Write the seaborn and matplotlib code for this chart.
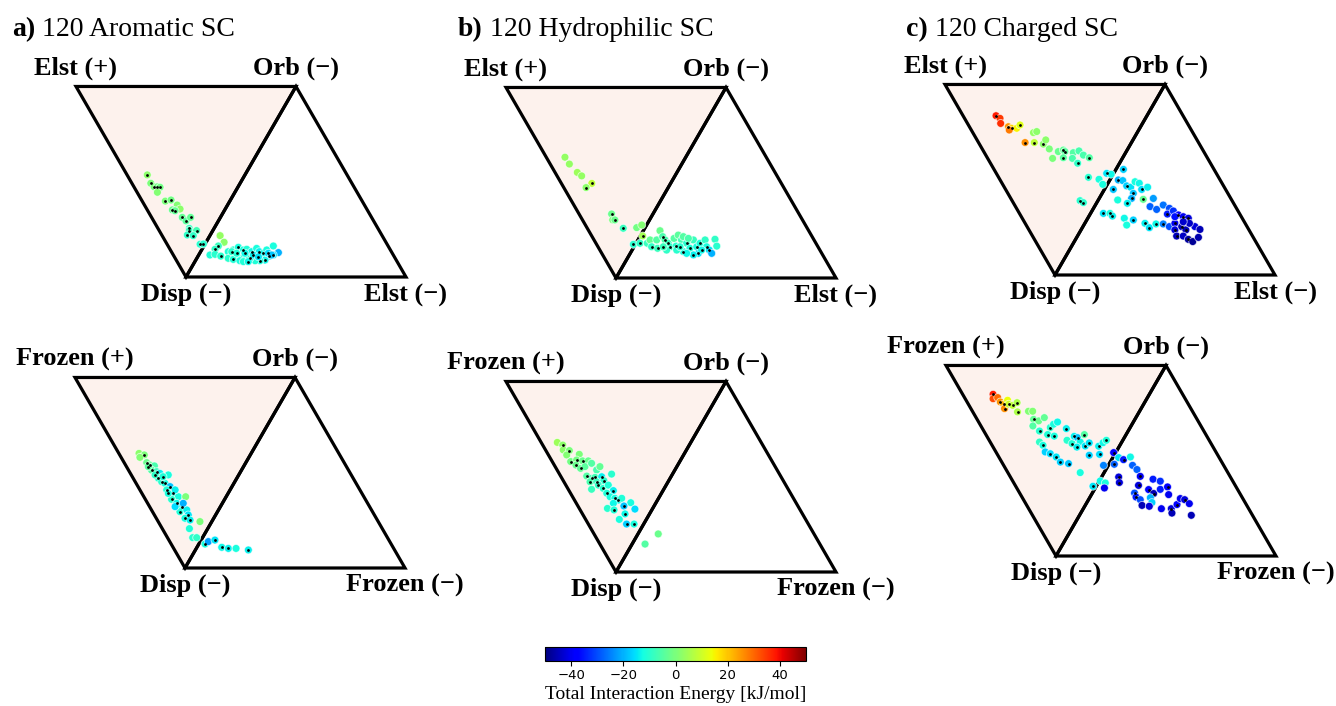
import numpy as np
import pandas as pd
import matplotlib
matplotlib.use("Agg")
import matplotlib.pyplot as plt
import seaborn as sns
from matplotlib.patches import Polygon
from matplotlib.colors import Normalize
from matplotlib.cm import ScalarMappable

# ---------------- data (projected ternary coordinates, side = 1, Disp vertex at origin) -------------
# columns: x, y, total interaction energy [kJ/mol], marked (black centre dot)
aro_elst = [
    (-0.176, 0.464, 2, 1), (-0.160, 0.426, 0, 1), (-0.145, 0.410, 0, 1), (-0.130, 0.410, -1, 1),
    (-0.118, 0.408, -1, 1), (-0.130, 0.385, 1, 0), (-0.094, 0.345, 0, 1), (-0.068, 0.350, -1, 1),
    (-0.040, 0.327, 1, 0), (-0.027, 0.309, 2, 0), (-0.062, 0.305, -2, 1), (-0.050, 0.301, -3, 1),
    (-0.017, 0.271, -3, 1), (0.000, 0.255, -4, 1), (0.021, 0.271, -3, 1), (0.015, 0.221, -8, 1),
    (0.015, 0.211, -8, 1), (0.048, 0.211, -7, 1), (0.006, 0.191, -9, 1), (0.033, 0.188, -9, 1),
    (0.064, 0.149, -10, 1), (0.079, 0.150, -10, 1), (0.155, 0.188, 3, 0), (0.173, 0.158, 2, 0),
    (0.147, 0.141, -8, 1), (0.132, 0.126, -9, 1), (0.109, 0.100, -11, 0), (0.132, 0.103, -10, 0),
    (0.158, 0.095, -10, 1), (0.192, 0.115, -11, 0), (0.215, 0.123, -10, 0), (0.238, 0.135, -12, 1),
    (0.261, 0.123, -12, 1), (0.276, 0.126, -11, 0), (0.298, 0.115, -13, 1), (0.321, 0.130, -12, 0),
    (0.333, 0.115, -14, 1), (0.352, 0.108, -13, 1), (0.367, 0.123, -12, 0), (0.397, 0.141, -12, 0),
    (0.420, 0.111, -20, 0), (0.397, 0.100, -15, 1), (0.379, 0.095, -14, 1), (0.359, 0.077, -13, 1),
    (0.336, 0.074, -12, 1), (0.314, 0.074, -11, 0), (0.291, 0.085, -12, 1), (0.276, 0.092, -10, 0),
    (0.253, 0.085, -11, 0), (0.230, 0.092, -10, 0), (0.208, 0.100, -9, 0), (0.192, 0.085, -10, 0),
    (0.215, 0.080, -11, 1), (0.245, 0.074, -12, 0), (0.261, 0.070, -11, 0), (0.283, 0.070, -13, 1),
    (0.306, 0.100, -14, 1), (0.329, 0.092, -15, 1), (0.374, 0.108, -16, 1), (0.389, 0.100, -18, 0),
    (0.208, 0.115, -10, 1), (0.230, 0.108, -11, 1), (0.268, 0.108, -13, 1),
]
aro_frozen = [
    (-0.209, 0.521, 2, 0), (-0.185, 0.514, 0, 1), (-0.205, 0.503, 1, 0), (-0.174, 0.479, -2, 1),
    (-0.159, 0.468, -3, 1), (-0.139, 0.464, -6, 0), (-0.152, 0.445, -5, 1), (-0.129, 0.438, -8, 1),
    (-0.114, 0.430, -14, 0), (-0.076, 0.423, -12, 0), (-0.121, 0.408, -10, 1), (-0.106, 0.392, -10, 1),
    (-0.091, 0.385, -12, 1), (-0.068, 0.370, -18, 1), (-0.083, 0.355, -11, 1), (-0.053, 0.339, -13, 1),
    (-0.030, 0.324, -12, 0), (0.003, 0.324, 0, 0), (-0.061, 0.312, -10, 1), (-0.038, 0.294, -13, 1),
    (-0.015, 0.279, -12, 1), (-0.023, 0.256, -11, 1), (0.008, 0.264, -14, 0), (0.015, 0.241, -15, 1),
    (0.000, 0.226, -12, 1), (0.023, 0.218, -14, 1), (0.068, 0.211, 0, 0), (0.020, 0.179, -11, 0),
    (0.035, 0.138, -10, 0), (0.053, 0.138, -9, 0), (0.091, 0.109, -12, 1), (0.106, 0.120, -22, 0),
    (0.136, 0.127, -15, 1), (0.167, 0.094, -13, 1), (0.197, 0.089, -14, 1), (0.232, 0.089, -12, 0),
    (0.288, 0.082, -14, 1), (-0.167, 0.461, -4, 1), (-0.136, 0.423, -9, 1), (-0.100, 0.415, -11, 1),
    (-0.045, 0.355, -14, 0), (-0.076, 0.339, -12, 1), (-0.045, 0.279, -16, 0), (-0.008, 0.294, -20, 0),
]
hyd_elst = [
    (-0.232, 0.549, 3, 0), (-0.212, 0.518, 3, 0), (-0.176, 0.480, 4, 0), (-0.156, 0.464, 3, 0),
    (-0.110, 0.430, 8, 1), (-0.136, 0.411, 2, 1), (-0.020, 0.291, -2, 1), (-0.015, 0.264, 0, 0),
    (-0.005, 0.264, -2, 1), (0.033, 0.226, -8, 1), (0.094, 0.229, -1, 0), (0.117, 0.241, 1, 0),
    (0.121, 0.191, 5, 1), (0.079, 0.153, -10, 1), (0.109, 0.158, -9, 1), (0.142, 0.158, -8, 0),
    (0.155, 0.173, -3, 0), (0.162, 0.142, -9, 1), (0.185, 0.173, -5, 0), (0.200, 0.215, -2, 0),
    (0.212, 0.188, -6, 1), (0.189, 0.135, -8, 1), (0.223, 0.173, -6, 1), (0.238, 0.158, -8, 1),
    (0.264, 0.180, -5, 0), (0.283, 0.195, -4, 0), (0.245, 0.142, -9, 1), (0.273, 0.145, -10, 1),
    (0.298, 0.173, -7, 0), (0.306, 0.188, -5, 0), (0.321, 0.158, -10, 1), (0.336, 0.135, -11, 1),
    (0.306, 0.120, -12, 1), (0.352, 0.173, -8, 0), (0.367, 0.142, -12, 1), (0.382, 0.158, -11, 1),
    (0.405, 0.173, -9, 0), (0.412, 0.142, -12, 1), (0.424, 0.127, -15, 1), (0.450, 0.176, -9, 0),
    (0.458, 0.145, -10, 0), (0.435, 0.112, -20, 0), (0.374, 0.112, -15, 1), (0.352, 0.105, -14, 1),
    (0.321, 0.112, -13, 0), (0.276, 0.127, -10, 0), (0.230, 0.127, -9, 0), (0.215, 0.142, -8, 1),
    (0.389, 0.127, -13, 1), (0.291, 0.142, -10, 1), (0.329, 0.180, -6, 0),
]
hyd_frozen = [
    (-0.267, 0.589, 4, 0), (-0.242, 0.577, 2, 1), (-0.240, 0.555, 2, 0), (-0.212, 0.552, 0, 1),
    (-0.224, 0.532, 1, 0), (-0.206, 0.502, -1, 1), (-0.167, 0.535, 0, 0), (-0.179, 0.509, -1, 1),
    (-0.152, 0.505, -2, 1), (-0.126, 0.505, -2, 0), (-0.182, 0.486, -2, 1), (-0.161, 0.471, -3, 1),
    (-0.141, 0.479, -4, 0), (-0.111, 0.494, -5, 0), (-0.088, 0.464, -6, 0), (-0.073, 0.479, -3, 0),
    (-0.133, 0.436, -5, 1), (-0.111, 0.426, -7, 1), (-0.095, 0.430, -7, 1), (-0.065, 0.433, -14, 1),
    (-0.020, 0.445, -10, 0), (-0.118, 0.410, -6, 1), (-0.088, 0.410, -8, 1), (-0.055, 0.415, -10, 1),
    (-0.111, 0.376, -8, 0), (-0.080, 0.395, -9, 1), (-0.058, 0.380, -10, 1), (-0.035, 0.395, -11, 0),
    (-0.012, 0.370, -14, 1), (-0.042, 0.358, -11, 1), (-0.027, 0.342, -12, 0), (-0.005, 0.335, -12, 1),
    (0.011, 0.327, -13, 1), (-0.012, 0.312, -13, 0), (0.026, 0.335, -11, 0), (0.067, 0.315, -12, 0),
    (0.036, 0.300, -18, 1), (0.086, 0.286, -16, 0), (-0.039, 0.289, -10, 0), (-0.009, 0.282, -11, 1),
    (0.041, 0.264, -13, 1), (0.015, 0.239, -12, 0), (0.048, 0.218, -17, 1), (0.082, 0.218, -12, 1),
    (0.192, 0.173, -2, 0), (0.132, 0.127, -5, 0),
]
chg_elst = [
    (-0.268, 0.724, 38, 1), (-0.250, 0.712, 35, 0), (-0.247, 0.689, 36, 0), (-0.212, 0.674, 25, 1),
    (-0.197, 0.667, 18, 1), (-0.174, 0.667, 15, 0), (-0.159, 0.682, 12, 1), (-0.208, 0.659, 28, 0),
    (-0.098, 0.647, 3, 0), (-0.083, 0.652, 2, 0), (-0.136, 0.602, 26, 1), (-0.094, 0.602, 8, 1),
    (-0.053, 0.595, 2, 1), (-0.042, 0.614, 2, 0), (-0.026, 0.573, 0, 0), (0.015, 0.561, -2, 0),
    (0.038, 0.568, -3, 1), (0.045, 0.561, -4, 1), (0.083, 0.556, -5, 0), (0.109, 0.564, -6, 0),
    (-0.011, 0.530, 0, 0), (0.038, 0.533, -4, 1), (0.079, 0.530, -6, 0), (0.103, 0.508, -9, 1),
    (0.129, 0.545, -6, 0), (0.156, 0.533, -5, 1), (0.152, 0.444, -10, 1), (0.200, 0.435, -12, 0),
    (0.217, 0.412, -12, 0), (0.235, 0.462, -15, 1), (0.255, 0.458, -13, 0), (0.311, 0.480, -17, 1),
    (0.288, 0.432, -20, 1), (0.308, 0.429, -18, 0), (0.265, 0.389, -18, 1), (0.326, 0.405, -17, 1),
    (0.344, 0.399, -15, 0), (0.364, 0.424, -12, 0), (0.383, 0.417, -13, 0), (0.394, 0.389, -16, 1),
    (0.421, 0.399, -14, 0), (0.356, 0.371, -18, 1), (0.348, 0.348, -20, 1), (0.401, 0.344, -3, 1),
    (0.447, 0.348, -22, 0), (0.285, 0.341, -12, 0), (0.329, 0.326, -14, 1), (0.114, 0.338, -10, 1),
    (0.129, 0.329, -10, 1), (0.220, 0.280, -15, 1), (0.250, 0.280, -12, 1), (0.261, 0.268, -14, 1),
    (0.315, 0.258, -13, 0), (0.326, 0.227, -12, 0), (0.356, 0.250, -17, 1), (0.409, 0.235, -14, 1),
    (0.429, 0.215, -15, 1), (0.459, 0.232, -13, 1), (0.432, 0.311, -28, 0), (0.462, 0.298, -28, 0),
    (0.492, 0.318, -26, 0), (0.520, 0.303, -30, 0), (0.511, 0.277, -35, 1), (0.538, 0.291, -33, 0),
    (0.561, 0.273, -38, 1), (0.583, 0.265, -40, 1), (0.606, 0.258, -42, 1), (0.636, 0.220, -42, 0),
    (0.659, 0.207, -45, 0), (0.492, 0.232, -25, 1), (0.520, 0.220, -30, 0), (0.545, 0.235, -40, 1),
    (0.545, 0.205, -42, 1), (0.576, 0.220, -45, 1), (0.595, 0.205, -45, 1), (0.611, 0.235, -44, 0),
    (0.553, 0.177, -45, 1), (0.583, 0.177, -44, 0), (0.606, 0.162, -47, 1), (0.626, 0.152, -48, 0),
    (0.652, 0.171, -46, 0), (0.545, 0.265, -36, 0), (0.583, 0.242, -43, 0),
]
chg_frozen = [
    (-0.286, 0.735, 38, 1), (-0.286, 0.715, 33, 0), (-0.265, 0.720, 30, 0), (-0.253, 0.700, 25, 1),
    (-0.238, 0.690, 22, 1), (-0.234, 0.670, 26, 1), (-0.220, 0.708, 14, 0), (-0.215, 0.690, 10, 1),
    (-0.197, 0.685, 8, 1), (-0.177, 0.697, 6, 1), (-0.175, 0.655, 6, 1), (-0.125, 0.658, 1, 0),
    (-0.106, 0.658, 1, 0), (-0.102, 0.621, -3, 1), (-0.079, 0.614, -2, 0), (-0.053, 0.629, -3, 0),
    (-0.105, 0.591, -5, 0), (-0.075, 0.568, -10, 1), (-0.026, 0.584, -10, 1), (-0.011, 0.599, -12, 0),
    (0.007, 0.609, -13, 0), (0.047, 0.579, -14, 1), (-0.038, 0.552, -11, 1), (-0.008, 0.545, -12, 1),
    (-0.075, 0.518, -9, 0), (-0.059, 0.503, -12, 1), (0.050, 0.526, -10, 0), (0.073, 0.511, -11, 1),
    (0.083, 0.544, -14, 1), (0.098, 0.538, -18, 1), (0.129, 0.552, -5, 1), (0.110, 0.518, -13, 0),
    (0.095, 0.495, -14, 1), (0.133, 0.500, -15, 1), (0.151, 0.514, -15, 1), (0.194, 0.499, -14, 1),
    (0.214, 0.515, -13, 0), (0.229, 0.526, -11, 1), (-0.049, 0.473, -17, 0), (-0.026, 0.465, -16, 1),
    (0.001, 0.450, -15, 1), (0.020, 0.427, -17, 1), (0.057, 0.420, -18, 1), (0.151, 0.458, -17, 1),
    (0.198, 0.462, -16, 1), (0.110, 0.379, -12, 0), (0.262, 0.470, -38, 1), (0.285, 0.447, -15, 0),
    (0.307, 0.438, -35, 1), (0.338, 0.450, -13, 0), (0.265, 0.417, -28, 1), (0.216, 0.412, -25, 0),
    (0.348, 0.412, -28, 0), (0.368, 0.393, -28, 0), (0.383, 0.362, -40, 1), (0.285, 0.359, -42, 1),
    (0.288, 0.334, -42, 1), (0.201, 0.341, -13, 0), (0.224, 0.332, -12, 0), (0.168, 0.317, -15, 1),
    (0.220, 0.309, -40, 0), (0.375, 0.321, -42, 1), (0.441, 0.349, -35, 0), (0.474, 0.340, -33, 0),
    (0.421, 0.302, -38, 1), (0.444, 0.284, -45, 1), (0.474, 0.303, -35, 0), (0.507, 0.314, -38, 1),
    (0.512, 0.279, -40, 0), (0.357, 0.286, -30, 1), (0.364, 0.268, -35, 1), (0.383, 0.256, -30, 0),
    (0.429, 0.265, -20, 0), (0.436, 0.243, -17, 0), (0.391, 0.230, -45, 0), (0.424, 0.226, -42, 0),
    (0.479, 0.215, -40, 0), (0.524, 0.215, -42, 1), (0.527, 0.195, -45, 0), (0.550, 0.234, -38, 1),
    (0.565, 0.261, -40, 0), (0.585, 0.256, -42, 1), (0.606, 0.238, -40, 0), (0.615, 0.185, -45, 0),
]

titles = [("a)", "120 Aromatic SC"), ("b)", "120 Hydrophilic SC"), ("c)", "120 Charged SC")]
top_labels = ["Elst (+)", "Orb (\u2212)", "Disp (\u2212)", "Elst (\u2212)"]
bot_labels = ["Frozen (+)", "Orb (\u2212)", "Disp (\u2212)", "Frozen (\u2212)"]
cbar_ticks = [-40, -20, 0, 20, 40]
cbar_label = "Total Interaction Energy [kJ/mol]"

# ---------------- figure ----------------
sns.set_style("white")
plt.rcParams["font.family"] = ["Liberation Serif", "DejaVu Serif"]
plt.rcParams["text.color"] = "black"
plt.rcParams["axes.labelcolor"] = "black"
plt.rcParams["xtick.color"] = "black"

W, H = 1336, 706
SCALE = 220.0  # pixels per triangle side
fig = plt.figure(figsize=(W / 100, H / 100), dpi=100)
h = np.sqrt(3) / 2
cmap = matplotlib.colormaps["jet"]
norm = Normalize(-50, 50)


def panel(apex, data, labels):
    ax = fig.add_axes([(apex[0] - 0.75 * SCALE) / W, 1 - (apex[1] + 0.2 * SCALE) / H,
                       2.1 * SCALE / W, 1.2 * SCALE / H])
    ax.set_xlim(-0.75, 1.35)
    ax.set_ylim(-0.2, 1.0)
    ax.axis("off")
    ax.add_patch(Polygon([(-0.5, h), (0.5, h), (0, 0)], closed=True, fc="#fdf2ed",
                         ec="black", lw=2.3, joinstyle="miter", zorder=1))
    ax.add_patch(Polygon([(0, 0), (0.5, h), (1, 0)], closed=True, fill=False,
                         ec="black", lw=2.3, joinstyle="miter", zorder=1))
    df = pd.DataFrame(data, columns=["x", "y", "e", "dot"])
    sns.scatterplot(data=df, x="x", y="y", hue="e", palette=cmap, hue_norm=norm,
                    s=32, edgecolor=(1, 1, 1, 0.7), linewidth=0.6, legend=False, ax=ax, zorder=3)
    sub = df[df["dot"] == 1]
    sns.scatterplot(data=sub, x="x", y="y", color="black", s=4, linewidth=0,
                    legend=False, ax=ax, zorder=4)
    kw = dict(fontsize=19, fontweight="bold", ha="center", va="baseline",
              textcoords="offset pixels", annotation_clip=False, color="black")
    ax.annotate(labels[0], xy=(-0.5, h), xytext=(0, 12), **kw)
    ax.annotate(labels[1], xy=(0.5, h), xytext=(0, 12), **kw)
    ax.annotate(labels[2], xy=(0, 0), xytext=(0, -24), **kw)
    ax.annotate(labels[3], xy=(1, 0), xytext=(0, -24), **kw)
    return ax


apexes_top = [(186, 277), (616, 278), (1055, 275)]
apexes_bot = [(185, 568), (616, 572), (1056, 556)]
panel(apexes_top[0], aro_elst, top_labels)
panel(apexes_top[1], hyd_elst, top_labels)
panel(apexes_top[2], chg_elst, top_labels)
panel(apexes_bot[0], aro_frozen, bot_labels)
panel(apexes_bot[1], hyd_frozen, bot_labels)
panel(apexes_bot[2], chg_frozen, bot_labels)

title_x = [12, 458, 906]
for (lead, rest), tx in zip(titles, title_x):
    t1 = fig.text(tx / W, 1 - 36 / H, lead, fontsize=20, fontweight="bold", va="baseline",
                  color="black")
    fig.add_artist(matplotlib.text.Annotation(" " + rest, xy=(1, 0), xycoords=t1,
                                              fontsize=20, va="bottom", ha="left",
                                              annotation_clip=False, color="black"))

cax = fig.add_axes([545 / W, 1 - 661 / H, 261 / W, 14 / H])
cb = fig.colorbar(ScalarMappable(norm=norm, cmap=cmap), cax=cax, orientation="horizontal")
cb.set_ticks(cbar_ticks)
cax.tick_params(labelsize=9.5, length=3.5, width=0.8, pad=2, colors="black")
for lab in cax.get_xticklabels():
    lab.set_fontfamily("DejaVu Sans")
cb.outline.set_linewidth(0.8)
cb.outline.set_edgecolor("black")
cb.set_label(cbar_label, fontsize=14, labelpad=3, color="black")

fig.savefig("out.png", dpi=100)
